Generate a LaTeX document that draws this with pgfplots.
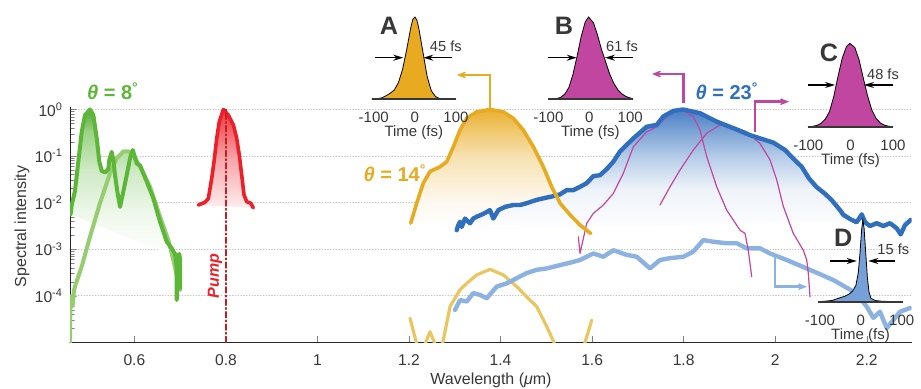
\documentclass[border=0pt]{standalone}
\usepackage{fontspec}
\setmainfont{Liberation Sans}
\usepackage{pgfplots}
\pgfplotsset{compat=1.18}
\usetikzlibrary{arrows.meta}
\definecolor{gA}{RGB}{92,182,56}
\definecolor{gB}{RGB}{150,205,112}
\definecolor{rA}{RGB}{236,32,40}
\definecolor{yA}{RGB}{232,170,32}
\definecolor{yB}{RGB}{234,198,96}
\definecolor{bA}{RGB}{48,110,190}
\definecolor{bB}{RGB}{140,178,226}
\definecolor{mA}{RGB}{192,70,160}
\definecolor{tx}{RGB}{55,55,55}
\definecolor{bfill}{RGB}{118,160,216}
\pgfdeclareverticalshading{gshade}{100bp}{color(0bp)=(white); color(25bp)=(white); color(40bp)=(gA!10!white); color(55bp)=(gA!30!white); color(68bp)=(gA!62!white); color(75bp)=(gA!90!black); color(100bp)=(gA!90!black)}
\pgfdeclareverticalshading{bshade}{100bp}{color(0bp)=(white); color(25bp)=(white); color(43bp)=(bA!8!white); color(56bp)=(bA!35!white); color(68bp)=(bA!68!white); color(75bp)=(bA!88!white); color(100bp)=(bA!88!white)}
\pgfdeclareverticalshading{yshade}{100bp}{color(0bp)=(white); color(25bp)=(white); color(37bp)=(yA!6!white); color(56bp)=(yA!35!white); color(68bp)=(yA!70!white); color(75bp)=(yA!92!white); color(100bp)=(yA!92!white)}
\pgfdeclareverticalshading{rshade}{100bp}{color(0bp)=(rA!8!white); color(25bp)=(rA!8!white); color(50bp)=(rA!40!white); color(75bp)=(rA!90!white); color(100bp)=(rA!90!white)}
\pgfplotsset{inset/.style={anchor=south west, scale only axis, height=41pt, ymin=0, ymax=1,
  axis x line*=bottom, axis y line=none, ytick=\empty, xtick={-100,0,100}, xticklabels={-100,0,100},
  major tick length=0pt, axis on top, clip=false,
  xticklabel style={anchor=center, yshift=-9.25pt, font=\fontsize{7.5}{9}\selectfont, text=tx},
  xlabel={Time (fs)},
  xlabel style={at={(axis description cs:0.5,0)}, anchor=center, yshift=-16.75pt, font=\fontsize{7.5}{9}\selectfont, text=tx},
  x axis line style={line width=0.9pt, draw=tx}}}
\begin{document}
\begin{tikzpicture}
\path[use as bounding box] (0,0) rectangle (460.5pt,-194.5pt);
\begin{axis}[
  at={(35pt,-171.25pt)}, anchor=south west,
  scale only axis, width=420.85pt, height=117.65pt,
  xmin=0.4593, xmax=2.2983, ymode=log, ymin=1e-5, ymax=1.12,
  axis x line*=bottom, axis y line*=left, tick align=inside,
  axis line style={black!85, line width=0.5pt},
  major tick length=3.2pt, minor tick length=2.2pt,
  xtick={0.6,0.8,1,1.2,1.4,1.6,1.8,2,2.2},
  xticklabels={0.6,0.8,1,1.2,1.4,1.6,1.8,2,2.2},
  ytick={1e-5,1e-4,1e-3,1e-2,1e-1,1},
  yticklabels={,10\textsuperscript{-4},10\textsuperscript{-3},10\textsuperscript{-2},10\textsuperscript{-1},10\textsuperscript{0}},
  minor ytick={2e-5,3e-5,4e-5,5e-5,6e-5,7e-5,8e-5,9e-5,2e-4,3e-4,4e-4,5e-4,6e-4,7e-4,8e-4,9e-4,2e-3,3e-3,4e-3,5e-3,6e-3,7e-3,8e-3,9e-3,2e-2,3e-2,4e-2,5e-2,6e-2,7e-2,8e-2,9e-2,0.2,0.3,0.4,0.5,0.6,0.7,0.8,0.9},
  ymajorgrids, major grid style={densely dotted, gray!45, line width=0.4pt},
  tick label style={font=\fontsize{7.8}{9}\selectfont, text=tx},
  xticklabel style={yshift=-2.5pt},
  line join=round, line cap=round,
]
% ---- gradient fills
\addplot[draw=none, shade, shading=gshade] coordinates {
(0.4605,5.62e-3) (0.463,8.91e-3) (0.470,1.74e-2) (0.4775,7.59e-2) (0.4849,0.331) (0.4921,0.759) (0.503,1.0) (0.5103,0.759) (0.5177,0.240) (0.5234,7.59e-2) (0.5286,4.79e-2) (0.5359,4.47e-2) (0.5430,5.25e-2) (0.5452,8.32e-2) (0.5504,0.123) (0.5539,8.32e-2) (0.5613,8.91e-2) (0.5758,0.126) (0.5867,0.126) (0.5964,0.135) (0.6052,6.92e-2) (0.6124,6.31e-2) (0.6270,2.82e-2) (0.6415,1.23e-2) (0.6560,3.89e-3) (0.6707,1.45e-3) (0.6816,1.05e-3) (0.6888,8.91e-4) (0.6997,6.31e-4)};
\addplot[draw=none, shade, shading=rshade] coordinates {
(0.7397,8.91e-3) (0.7543,1.02e-2) (0.7615,1.23e-2) (0.7689,3.31e-2) (0.7740,7.59e-2) (0.7799,0.240) (0.7855,0.550) (0.7943,1.0) (0.8052,0.759) (0.8161,0.468) (0.8235,0.240) (0.8292,0.105) (0.8345,3.89e-2) (0.8395,1.48e-2) (0.8454,1.05e-2) (0.8541,9.77e-3) (0.8598,7.76e-3)};
\addplot[draw=none, shade, shading=yshade] coordinates {
(1.2037,3.63e-3) (1.2168,9.77e-3) (1.2312,2.63e-2) (1.2459,4.68e-2) (1.2677,5.89e-2) (1.2824,7.59e-2) (1.2968,0.158) (1.3114,0.363) (1.3261,0.646) (1.3479,0.891) (1.377,1.0) (1.406,0.891) (1.4279,0.646) (1.4497,0.363) (1.4716,0.158) (1.4934,5.89e-2) (1.5118,2.19e-2) (1.5299,9.77e-3) (1.5518,5.50e-3) (1.5736,3.31e-3) (1.597,2.19e-3)};
\addplot[draw=none, shade, shading=bshade] coordinates {
(1.3042,2.57e-3) (1.3077,3.31e-3) (1.3114,3.89e-3) (1.3151,3.02e-3) (1.3223,4.57e-3) (1.3274,4.07e-3) (1.3333,3.63e-3) (1.3405,4.57e-3) (1.3479,5.01e-3) (1.3623,5.75e-3) (1.3770,6.92e-3) (1.3842,4.57e-3) (1.3951,6.92e-3) (1.4097,8.13e-3) (1.4279,8.91e-3) (1.4425,8.91e-3) (1.4572,9.77e-3) (1.4790,1.15e-2) (1.5009,1.29e-2) (1.5153,1.38e-2) (1.5299,1.51e-2) (1.5446,1.86e-2) (1.5590,1.86e-2) (1.5736,2.19e-2) (1.5883,2.63e-2) (1.6027,3.72e-2) (1.6173,3.89e-2) (1.6319,5.25e-2) (1.6464,7.59e-2) (1.6610,0.126) (1.6901,0.240) (1.7193,0.427) (1.7412,0.468) (1.7556,0.708) (1.7775,0.933) (1.7993,1.0) (1.8358,0.832) (1.8723,0.550) (1.9085,0.398) (1.945,0.282) (1.9669,0.240) (1.9959,0.195) (2.0215,0.135) (2.0393,8.91e-2) (2.0580,5.89e-2) (2.0740,3.31e-2) (2.0900,2.19e-2) (2.1080,1.58e-2) (2.1230,1.15e-2) (2.1417,6.92e-3) (2.1489,5.50e-3) (2.1635,4.47e-3) (2.1782,3.80e-3) (2.1891,5.62e-3) (2.1963,3.80e-3) (2.2072,3.16e-3) (2.2218,3.63e-3) (2.2363,3.16e-3) (2.2509,3.63e-3) (2.2655,2.82e-3) (2.2743,2.09e-3) (2.2837,3.31e-3) (2.2961,4.27e-3)};
% ---- light curves
\addplot[yB, line width=1.6pt] coordinates {
(1.2022,3.31e-5) (1.2240,5.01e-6) (1.2459,1.70e-5) (1.2677,5.01e-6) (1.2896,5.89e-5) (1.3114,1.35e-4) (1.3261,1.86e-4) (1.3479,2.82e-4) (1.377,3.72e-4) (1.406,2.82e-4) (1.4353,1.58e-4) (1.4572,9.55e-5) (1.479,5.89e-5) (1.5009,2.19e-5) (1.5168,1e-5) (1.522,5.01e-6)};
\addplot[yB, line width=1.6pt] coordinates {(1.580,5.01e-6) (1.5845,1e-5) (1.5992,3.02e-5)};
\addplot[bB, line width=2.2pt] coordinates {
(1.3005,5.01e-5) (1.3114,8.13e-5) (1.3261,7.59e-5) (1.3405,1.15e-4) (1.3551,1.05e-4) (1.3698,8.91e-5) (1.3916,1.58e-4) (1.4135,1.86e-4) (1.4353,2.40e-4) (1.4572,3.09e-4) (1.479,3.63e-4) (1.5009,3.89e-4) (1.5299,4.57e-4) (1.559,5.37e-4) (1.5736,5.89e-4) (1.6027,8.13e-4) (1.6245,6.92e-4) (1.6464,9.55e-4) (1.6756,7.59e-4) (1.6975,6.92e-4) (1.7265,3.89e-4) (1.7484,5.89e-4) (1.7702,6.46e-4) (1.7993,6.92e-4) (1.8211,8.91e-4) (1.843,1.58e-3) (1.8648,1.45e-3) (1.8941,1.35e-3) (1.9160,1.35e-3) (1.9378,1.05e-3) (1.9669,1.05e-3) (1.9887,8.13e-4) (2.0252,5.89e-4) (2.0761,3.63e-4) (2.127,2.19e-4) (2.1768,1.15e-4) (2.2,5.89e-5) (2.2145,3.39e-5) (2.229,4.57e-5) (2.2437,2.04e-5) (2.2727,4.57e-5) (2.2946,5.50e-5)};
\addplot[gB, line width=2pt] coordinates {
(0.4593,1e-5) (0.4600,5.0e-5) (0.4615,1.0e-4) (0.4650,6.0e-5) (0.4680,1.3e-4) (0.470,1.58e-4) (0.4849,4.27e-4) (0.503,1.86e-3) (0.5248,9.77e-3) (0.5467,4.27e-2) (0.5613,8.91e-2) (0.5758,0.126) (0.5867,0.126) (0.5976,0.105) (0.6124,5.89e-2) (0.6342,2.19e-2) (0.6560,5.01e-3) (0.6741,1.58e-3) (0.6851,5.89e-4) (0.6997,1.35e-4)};
% ---- magenta spectra
\addplot[mA, line width=0.6pt] coordinates {
(1.5700,1.86e-3) (1.5736,8.13e-4) (1.5883,3.63e-3) (1.6027,5.89e-3) (1.6245,8.91e-3) (1.6464,1.58e-2) (1.6682,4.27e-2) (1.6901,0.158) (1.7193,0.331) (1.7412,0.427) (1.7702,0.832) (1.7958,0.977) (1.8211,0.708) (1.8358,0.363) (1.8504,9.77e-2) (1.8723,2.19e-2) (1.8941,6.92e-3) (1.9232,2.57e-3) (1.9341,2.19e-3) (1.9413,9.55e-4) (1.9487,2.57e-4)};
\addplot[mA, line width=0.6pt] coordinates {
(1.7484,8.91e-3) (1.7702,2.19e-2) (1.792,5.01e-2) (1.8211,0.135) (1.8504,0.309) (1.8795,0.468) (1.9085,0.427) (1.9378,0.331) (1.9669,0.186) (1.9887,8.32e-2) (2.0033,3.09e-2) (2.0178,8.32e-3) (2.0396,2.19e-3) (2.0615,9.55e-4) (2.0689,5.89e-4) (2.0724,3.09e-4) (2.0761,9.55e-5)};
% ---- main curves
\addplot[bA, line width=2.2pt] coordinates {
(1.3042,2.57e-3) (1.3077,3.31e-3) (1.3114,3.89e-3) (1.3151,3.02e-3) (1.3223,4.57e-3) (1.3274,4.07e-3) (1.3333,3.63e-3) (1.3405,4.57e-3) (1.3479,5.01e-3) (1.3623,5.75e-3) (1.3770,6.92e-3) (1.3842,4.57e-3) (1.3951,6.92e-3) (1.4097,8.13e-3) (1.4279,8.91e-3) (1.4425,8.91e-3) (1.4572,9.77e-3) (1.4790,1.15e-2) (1.5009,1.29e-2) (1.5153,1.38e-2) (1.5299,1.51e-2) (1.5446,1.86e-2) (1.5590,1.86e-2) (1.5736,2.19e-2) (1.5883,2.63e-2) (1.6027,3.72e-2) (1.6173,3.89e-2) (1.6319,5.25e-2) (1.6464,7.59e-2) (1.6610,0.126) (1.6901,0.240) (1.7193,0.427) (1.7412,0.468) (1.7556,0.708) (1.7775,0.933) (1.7993,1.0) (1.8358,0.832) (1.8723,0.550) (1.9085,0.398) (1.945,0.282) (1.9669,0.240) (1.9959,0.195) (2.0215,0.135) (2.0393,8.91e-2) (2.0580,5.89e-2) (2.0740,3.31e-2) (2.0900,2.19e-2) (2.1080,1.58e-2) (2.1230,1.15e-2) (2.1417,6.92e-3) (2.1489,5.50e-3) (2.1635,4.47e-3) (2.1782,3.80e-3) (2.1891,5.62e-3) (2.1963,3.80e-3) (2.2072,3.16e-3) (2.2218,3.63e-3) (2.2363,3.16e-3) (2.2509,3.63e-3) (2.2655,2.82e-3) (2.2743,2.09e-3) (2.2837,3.31e-3) (2.2961,4.27e-3)};
\addplot[yA, line width=1.8pt] coordinates {
(1.2037,3.63e-3) (1.2168,9.77e-3) (1.2312,2.63e-2) (1.2459,4.68e-2) (1.2677,5.89e-2) (1.2824,7.59e-2) (1.2968,0.158) (1.3114,0.363) (1.3261,0.646) (1.3479,0.891) (1.377,1.0) (1.406,0.891) (1.4279,0.646) (1.4497,0.363) (1.4716,0.158) (1.4934,5.89e-2) (1.5118,2.19e-2) (1.5299,9.77e-3) (1.5518,5.50e-3) (1.5736,3.31e-3) (1.597,2.19e-3)};
\addplot[gA, line width=2pt] coordinates {
(0.4605,5.62e-3) (0.463,8.91e-3) (0.470,1.74e-2) (0.4775,7.59e-2) (0.4849,0.331) (0.4921,0.759) (0.503,1.0) (0.5103,0.759) (0.5177,0.240) (0.5234,7.59e-2) (0.5286,4.79e-2) (0.5359,4.47e-2) (0.5430,5.25e-2) (0.5452,8.32e-2) (0.5504,0.123) (0.5539,8.32e-2) (0.5577,3.89e-2) (0.5627,1.74e-2) (0.5687,8.13e-3) (0.5758,1.74e-2) (0.5832,3.89e-2) (0.5904,8.91e-2) (0.5964,0.135) (0.6052,6.92e-2) (0.6124,6.31e-2) (0.6270,2.82e-2) (0.6415,1.23e-2) (0.6560,3.89e-3) (0.6707,1.45e-3) (0.6816,1.05e-3) (0.6888,7.94e-4) (0.6925,4.0e-4) (0.6925,8.13e-5) (0.6950,7.08e-4) (0.6980,7.94e-4) (0.6997,6.31e-4) (0.6997,1.48e-4)};
\addplot[rA, line width=1.8pt] coordinates {
(0.7397,8.91e-3) (0.7543,1.02e-2) (0.7615,1.23e-2) (0.7689,3.31e-2) (0.7740,7.59e-2) (0.7799,0.240) (0.7855,0.550) (0.7943,1.0) (0.8052,0.759) (0.8161,0.468) (0.8235,0.240) (0.8292,0.105) (0.8345,3.89e-2) (0.8395,1.48e-2) (0.8454,1.05e-2) (0.8541,9.77e-3) (0.8598,7.76e-3)};
\addplot[rA!85!black, line width=0.6pt, dash pattern=on 3pt off 1.2pt on 0.8pt off 1.2pt] coordinates {(0.8,1e-5) (0.8,1)};
\end{axis}
% ---- insets
\begin{axis}[inset, at={(185.85pt,-49.5pt)}, width=42.15pt, xmin=-105, xmax=100]
\addplot[fill=yA, draw=black, line width=0.4pt] coordinates {
(-105,0) (-100,0) (-90,0.004) (-80,0.015) (-70,0.04) (-60,0.07) (-50,0.11) (-40,0.2) (-30,0.36) (-20,0.6) (-10,0.87) (-5,0.97) (0,1) (5,0.96) (10,0.85) (20,0.56) (30,0.27) (40,0.1) (50,0.03) (60,0.005) (70,0) (100,0)} \closedcycle;
\end{axis}
\begin{axis}[inset, at={(274pt,-49.5pt)}, width=42.35pt, xmin=-101, xmax=106]
\addplot[fill=mA, draw=black, line width=0.4pt] coordinates {
(-101,0) (-90,0) (-80,0.005) (-70,0.02) (-60,0.06) (-50,0.14) (-40,0.3) (-30,0.52) (-20,0.76) (-10,0.94) (-2,1) (10,0.93) (20,0.78) (30,0.6) (40,0.45) (50,0.3) (60,0.19) (70,0.11) (80,0.06) (90,0.03) (100,0.012) (106,0.005)} \closedcycle;
\end{axis}
\begin{axis}[inset, at={(404pt,-63.35pt)}, width=42.5pt, height=41.65pt, xmin=-100.7, xmax=100]
\addplot[fill=mA, draw=black, line width=0.4pt] coordinates {
(-100.7,0) (-90,0.004) (-80,0.015) (-70,0.04) (-60,0.09) (-50,0.18) (-40,0.36) (-30,0.6) (-20,0.82) (-10,0.96) (-2,1) (10,0.95) (20,0.8) (30,0.58) (40,0.37) (50,0.2) (60,0.1) (70,0.045) (80,0.018) (90,0.005) (100,0)} \closedcycle;
\end{axis}
\begin{axis}[inset, at={(409.15pt,-150.85pt)}, width=42.2pt, height=40.85pt, xmin=-104, xmax=102.5]
\addplot[fill=bfill, draw=black, line width=0.4pt] coordinates {
(-104,0) (-90,0.005) (-70,0.015) (-50,0.05) (-40,0.065) (-30,0.09) (-20,0.13) (-12,0.2) (-6,0.36) (-2,0.6) (2,0.88) (5,1) (8,0.9) (12,0.6) (16,0.3) (20,0.12) (25,0.04) (35,0.015) (50,0.006) (70,0.002) (90,0) (102.5,0)} \closedcycle;
\end{axis}
% ---- annotations (pixel units)
\begin{scope}[x=0.5pt, y=-0.5pt]
\node[rotate=90, text=tx, font=\fontsize{8}{9}\selectfont] at (22,226.5) {Spectral intensity};
\node[text=tx, font=\fontsize{8}{9}\selectfont] at (491,380) {Wavelength (\textit{μ}m)};
\node[rotate=90, text=rA, font=\bfseries\itshape\fontsize{8}{9}\selectfont] at (215,276) {Pump};
\node[text=gA, font=\bfseries\fontsize{10}{12}\selectfont] at (113,91) {\textit{θ} = 8\textsuperscript{°}};
\node[text=yA, font=\bfseries\fontsize{10}{12}\selectfont] at (395,173) {\textit{θ} = 14\textsuperscript{°}};
\node[text=bA, font=\bfseries\fontsize{10}{12}\selectfont] at (727,91) {\textit{θ} = 23\textsuperscript{°}};
\draw[yA, line width=1.25pt, -{Stealth[length=8pt,width=6.5pt,inset=5.5pt]}] (490,108) -- (490,75) -- (457,75);
\draw[mA, line width=1.25pt, -{Stealth[length=8pt,width=6.5pt,inset=5.5pt]}] (683.5,103) -- (683.5,74) -- (652,74);
\draw[mA, line width=1.25pt, -{Stealth[length=8pt,width=6.5pt,inset=5.5pt]}] (755,131.7) -- (755,101.7) -- (789,101.7);
\draw[bB, line width=1.25pt, -{Stealth[length=8pt,width=6.5pt,inset=5.5pt]}] (775,255) -- (775,286.7) -- (807,286.7);
\tikzset{fw/.style={black, line width=0.6pt, -{Stealth[length=5pt,width=3pt]}}}
\draw[fw] (375,57.7) -- (403.3,57.7); \draw[fw] (452,57.7) -- (423.3,57.7);
\draw[fw] (548.3,57.7) -- (576.7,57.7); \draw[fw] (632.7,57.7) -- (605,57.7);
\draw[fw] (808,85) -- (835,85); \draw[fw] (893.3,85) -- (864,85);
\draw[fw] (830,261) -- (856.7,261); \draw[fw] (895,261) -- (868.3,261);
\tikzset{big/.style={text=tx, font=\bfseries\fontsize{12.6}{14}\selectfont}}
\node[big] at (389,26) {A};
\node[big] at (564,26) {B};
\node[big] at (829,52.5) {C};
\node[big] at (843.3,238.3) {D};
\tikzset{fs/.style={text=tx, font=\fontsize{7.3}{8}\selectfont}}
\node[fs] at (445.8,46.5) {45 fs};
\node[fs] at (622,46.5) {61 fs};
\node[fs] at (883,74) {48 fs};
\node[fs] at (893.3,249) {15 fs};
\end{scope}
\end{tikzpicture}
\end{document}
